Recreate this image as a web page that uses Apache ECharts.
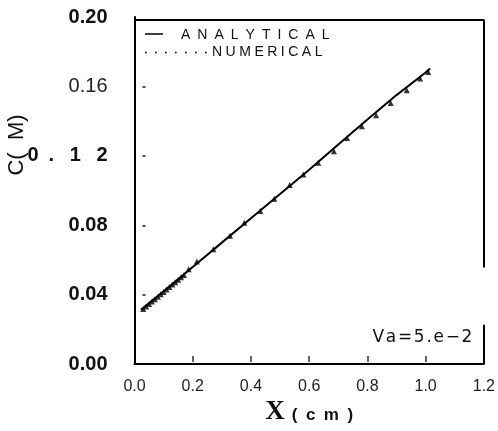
<!DOCTYPE html>
<html>
<head>
<meta charset="utf-8">
<script src="https://cdn.jsdelivr.net/npm/echarts@6/dist/echarts.min.js"></script>
<style>
html,body{margin:0;padding:0;background:#fff;}
#c{width:498px;height:431px;}
</style>
</head>
<body>
<div id="c"></div>
<script>
// ---- data ----
const anaX = [0.022, 0.1, 0.2, 0.3, 0.4, 0.5, 0.6, 0.7, 0.8, 0.9, 1.0, 1.015];
const anaY = [0.0313, 0.042, 0.056, 0.070, 0.084, 0.098, 0.112, 0.1265, 0.141, 0.155, 0.168, 0.1703];
const numX = [0.03, 0.04, 0.05, 0.06, 0.07, 0.08, 0.09, 0.10, 0.11, 0.12, 0.13, 0.14, 0.15, 0.16, 0.17,
  0.186, 0.214, 0.271, 0.328, 0.377, 0.432, 0.480, 0.533, 0.580, 0.631, 0.685, 0.730, 0.781, 0.830, 0.880, 0.935, 0.981, 1.009];
const numY = [0.0318, 0.0332, 0.0346, 0.036, 0.0374, 0.0388, 0.0402, 0.0416, 0.043, 0.0444, 0.0458, 0.0472, 0.0486, 0.05, 0.0514,
  0.0547, 0.0591, 0.0662, 0.0740, 0.0815, 0.0882, 0.0953, 0.1032, 0.1093, 0.1160, 0.1227, 0.1303, 0.1371, 0.1434, 0.1505, 0.1578, 0.1645, 0.1683];
const yTickValues = [0, 0.04, 0.08, 0.12, 0.16, 0.20];
const yTickLabels = ['0.00', '0.04', '0.08', '0\u2002.\u2002 1\u2002 2', '0.16', '0.20'];
const xTickValues = [0, 0.2, 0.4, 0.6, 0.8, 1.0, 1.2];
const xTickLabels = ['0.0', '0.2', '0.4', '0.6', '0.8', '1.0', '1.2'];
const seriesNames = ['ANALYTICAL', 'NUMERICAL'];
const xTitle = 'X';
const xUnit = '(cm)';
const yTitle = 'C(  M)';
const note = 'Va=5.e\u22122';

// ---- chart ----
const chart = echarts.init(document.getElementById('c'), null, {renderer: 'canvas'});
const pairs = (xs, ys) => xs.map((x, i) => [x, ys[i]]);
const spaced = (s, sp) => s.split('').join(sp);
const F = 'Liberation Sans, Arial, sans-serif';

chart.setOption({
  animation: false,
  backgroundColor: '#fff',
  grid: {left: 134.5, right: 12, top: 17, bottom: 66.5, containLabel: false},
  xAxis: [{
    type: 'value', min: 0, max: 1.2, interval: 0.2, position: 'bottom',
    axisLine: {show: true, lineStyle: {color: '#000', width: 2}},
    axisTick: {show: false},
    splitLine: {show: false},
    axisLabel: {
      margin: 14, color: '#222', fontSize: 16, fontFamily: F,
      formatter: v => { const i = xTickValues.findIndex(t => Math.abs(t - v) < 1e-6); return i >= 0 ? xTickLabels[i] : ''; }
    },
    name: '{x|' + xTitle + '}{c|' + spaced(xUnit, '\u2002') + '}',
    nameLocation: 'middle', nameGap: 30,
    nameTextStyle: {
      rich: {
        x: {fontFamily: 'Liberation Serif, Times New Roman, serif', fontWeight: 'bold', fontSize: 27, color: '#111'},
        c: {fontFamily: F, fontWeight: 'bold', fontSize: 17, color: '#111', padding: [6, 0, 0, 7]}
      }
    }
  }, {
    type: 'value', min: 0, max: 1.2, interval: 0.2, position: 'bottom', offset: -2,
    axisLine: {show: false},
    axisTick: {show: true, inside: true, length: 6, lineStyle: {color: '#333', width: 1.5}, customValues: [0.2, 0.4, 0.6, 0.8, 1.0]},
    axisLabel: {show: false},
    splitLine: {show: false}
  }],
  yAxis: [{
    type: 'value', min: 0, max: 0.2, interval: 0.04, position: 'left',
    axisLine: {show: true, lineStyle: {color: '#000', width: 2}},
    axisTick: {show: false},
    splitLine: {show: false},
    axisLabel: {
      margin: 27, color: '#111',
      formatter: v => {
        const i = yTickValues.findIndex(t => Math.abs(t - v) < 1e-6);
        if (i < 0) return '';
        return (Math.abs(v - 0.16) < 1e-6 ? '{r|' : '{b|') + yTickLabels[i] + '}';
      },
      rich: {
        b: {fontFamily: F, fontWeight: 'bold', fontSize: 20, color: '#111'},
        r: {fontFamily: F, fontWeight: 'normal', fontSize: 20, color: '#222'}
      }
    }
  }, {
    type: 'value', min: 0, max: 0.2, interval: 0.04, position: 'left', offset: -8,
    axisLine: {show: false},
    axisTick: {show: true, inside: true, length: 3, lineStyle: {color: '#111', width: 1.5}, customValues: [0.04, 0.08, 0.12, 0.16]},
    axisLabel: {show: false},
    splitLine: {show: false}
  }],
  series: [{
    name: seriesNames[0], type: 'line', data: pairs(anaX, anaY),
    showSymbol: false, symbol: 'none',
    lineStyle: {color: '#000', width: 2},
    markLine: {
      silent: true, symbol: 'none', label: {show: false},
      lineStyle: {color: '#000', width: 2, type: 'solid'},
      data: [
        [{coord: [0, 0.1985]}, {coord: [1.2, 0.1985]}],
        [{coord: [1.2, 0.1985]}, {coord: [1.2, 0.0556]}],
        [{coord: [1.2, 0.0227]}, {coord: [1.2, 0]}]
      ]
    }
  }, {
    name: seriesNames[1], type: 'scatter', data: pairs(numX, numY),
    symbol: 'triangle', symbolSize: 6,
    itemStyle: {color: '#000'}
  }],
  graphic: [
    {type: 'line', shape: {x1: 145, y1: 34, x2: 163, y2: 34}, style: {stroke: '#000', lineWidth: 1.5}},
    {type: 'text', x: 181, y: 35, style: {text: spaced(seriesNames[0], '\u2002'), font: 'normal 14px ' + F, fill: '#111', textVerticalAlign: 'middle'}},
    {type: 'line', shape: {x1: 145, y1: 52.5, x2: 210, y2: 52.5}, style: {stroke: '#000', lineWidth: 1.6, lineDash: [1.6, 8.4]}},
    {type: 'text', x: 212, y: 52.5, style: {text: spaced(seriesNames[1], '\u2005'), font: 'normal 14px ' + F, fill: '#111', textVerticalAlign: 'middle'}},
    {type: 'text', x: 17, y: 145, rotation: Math.PI / 2, style: {text: yTitle, font: 'normal 22px ' + F, fill: '#111', textAlign: 'center', textVerticalAlign: 'middle'}},
    {type: 'text', x: 372.5, y: 338, style: {text: spaced(note, '\u200A'), font: 'normal 17px DejaVu Sans, sans-serif', fill: '#111', textVerticalAlign: 'middle'}}
  ]
});
</script>
</body>
</html>
